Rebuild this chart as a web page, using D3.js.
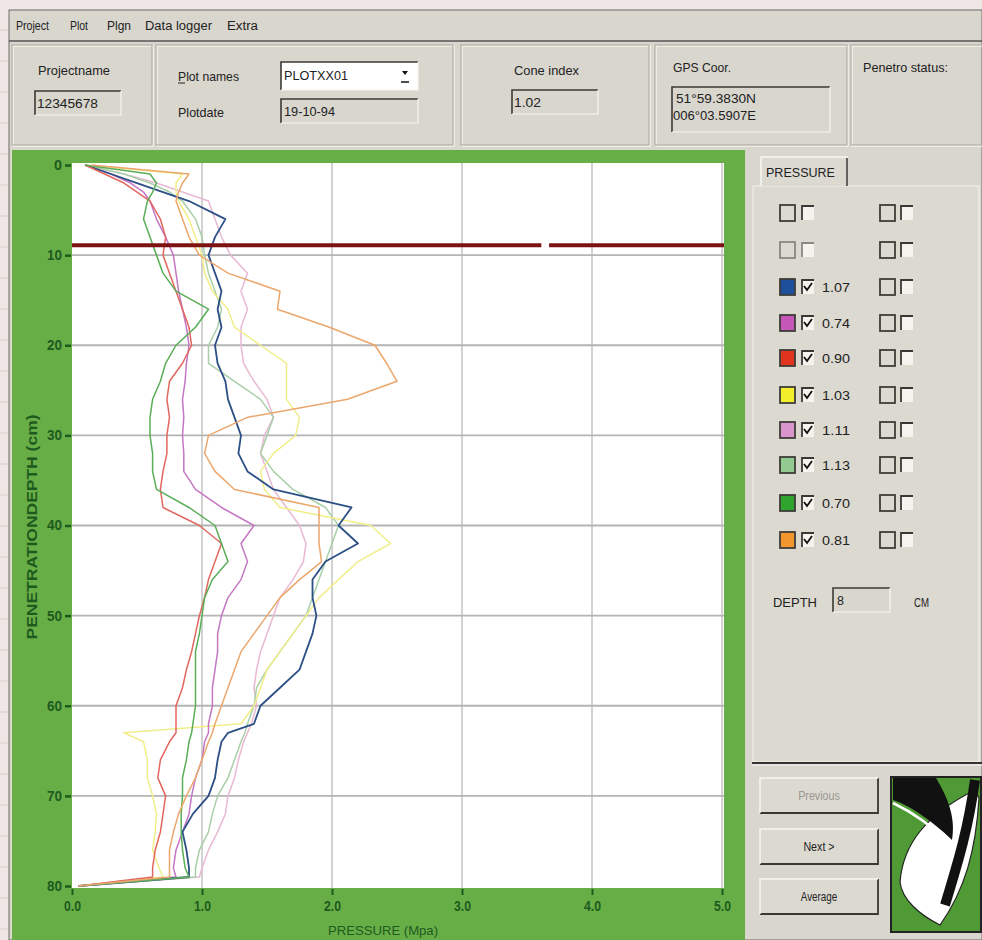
<!DOCTYPE html>
<html><head><meta charset="utf-8">
<script src="https://cdn.jsdelivr.net/npm/d3@7"></script>
<style>
html,body{margin:0;padding:0;background:#efe7e5;}
svg{display:block;}
text{font-family:"Liberation Sans",Arial,sans-serif;}
</style></head>
<body><svg id="c" width="982" height="940"></svg>
<script>
// ---------- DATA ----------
const depths = [0,1,2,3,4, 6,8,10,12,14,16,18,20,22,24,26,28,30,32,34,36,38,40,42,44,46,48,50,52,54,56,58,60,62, 63, 64,66,68,70,72,74,76,78, 79,80];
const xTicks = [0,1,2,3,4,5];
const yTicks = [0,10,20,30,40,50,60,70,80];
const seriesLabels = ["1.07","0.74","0.90","1.03","1.11","1.13","0.70","0.81"];
const seriesColors = ["#2c4f86","#c477c4","#e2675f","#f1ee8a","#e9b9d3","#a9cfa9","#5aae58","#eba76c"];
const swatchColors = ["#1d4f9c","#c457b8","#e0341f","#f3ef2a","#d996cc","#92ca92","#2fa52f","#f2962f"];
const p107 = [0.10,0.30,0.50,0.70,0.90, 1.18,1.10,1.05,1.10,1.15,1.12,1.15,1.10,1.12,1.18,1.20,1.25,1.30,1.28,1.35,1.55,2.15,2.05,2.20,1.95,1.85,1.85,1.88,1.85,1.80,1.75,1.60,1.45,1.40, 1.20, 1.15,1.12,1.10,1.05,0.93,0.85,0.88,0.90, 0.90,0.05];
const p074 = [0.10,0.30,0.45,0.55,0.60, 0.65,0.72,0.78,0.80,0.82,0.85,0.88,0.90,0.88,0.87,0.85,0.86,0.85,0.86,0.86,0.95,1.15,1.40,1.30,1.35,1.30,1.20,1.15,1.12,1.12,1.10,1.08,1.08,1.05, 1.05, 1.02,1.00,0.95,0.92,0.90,0.85,0.80,0.78, 0.80,0.05];
const p090 = [0.10,0.25,0.40,0.50,0.60, 0.68,0.72,0.70,0.75,0.80,0.85,0.90,0.92,0.85,0.75,0.73,0.75,0.73,0.73,0.70,0.68,0.70,0.98,1.15,1.10,1.05,1.02,0.98,0.95,0.92,0.88,0.85,0.80,0.80, 0.80, 0.75,0.68,0.66,0.72,0.70,0.68,0.64,0.62, 0.62,0.05];
const p103 = [0.10,0.85,0.80,0.80,0.82, 0.90,0.95,1.00,1.02,1.08,1.20,1.25,1.45,1.65,1.65,1.65,1.75,1.72,1.55,1.45,1.48,1.60,2.30,2.45,2.20,2.05,1.90,1.80,1.70,1.60,1.50,1.45,1.40,1.30, 0.40, 0.55,0.58,0.58,0.62,0.65,0.64,0.62,0.67, 0.70,0.05];
const p111 = [0.10,0.40,0.65,0.85,1.05, 1.10,1.15,1.22,1.35,1.30,1.35,1.30,1.30,1.32,1.40,1.50,1.55,1.48,1.45,1.50,1.55,1.65,1.75,1.80,1.78,1.70,1.60,1.55,1.50,1.45,1.42,1.40,1.42,1.38, 1.35, 1.32,1.28,1.25,1.20,1.18,1.12,1.05,1.00, 0.98,0.05];
const p113 = [0.10,0.40,0.60,0.75,0.85, 0.95,1.00,1.02,1.05,1.10,1.15,1.12,1.05,1.05,1.25,1.45,1.55,1.50,1.45,1.55,1.70,1.95,2.05,2.00,1.95,1.90,1.85,1.80,1.70,1.60,1.50,1.42,1.40,1.35, 1.33, 1.30,1.25,1.20,1.12,1.08,1.05,0.98,0.95, 0.95,0.05];
const p070 = [0.10,0.60,0.65,0.62,0.58, 0.55,0.60,0.65,0.70,0.80,1.05,0.95,0.80,0.72,0.68,0.62,0.60,0.60,0.62,0.62,0.65,0.90,1.10,1.15,1.20,1.08,1.02,1.00,0.98,0.95,0.95,0.95,0.95,0.93, 0.92, 0.90,0.88,0.85,0.85,0.84,0.84,0.85,0.87, 0.90,0.05];
const p081 = [0.15,0.90,0.85,0.82,0.80, 0.85,0.90,0.98,1.20,1.60,1.58,1.98,2.33,2.42,2.50,2.12,1.35,1.05,1.02,1.10,1.25,1.90,1.90,1.90,1.92,1.75,1.60,1.50,1.40,1.30,1.25,1.20,1.15,1.10, 1.08, 1.05,1.00,0.95,0.88,0.82,0.78,0.75,0.75, 0.75,0.05];
const seriesValues = [p107,p074,p090,p103,p111,p113,p070,p081];
const markerDepth = 8.9;
const markerGap = [3.61, 3.67];
const depthValue = "8";
const menuItems = ["Project","Plot","Plgn","Data logger","Extra"];

// ---------- DRAW ----------
const svg = d3.select("#c");
const F = "#1e5a1e";
for (let i=0;i<30;i++) svg.append("line").attr("x1",0).attr("x2",8).attr("y1",30+i*31).attr("y2",30+i*31).attr("stroke","#d9cfcd");
svg.append("rect").attr("x",9).attr("y",10).attr("width",973).attr("height",930).attr("fill","#d9d6ce").attr("stroke","#6d6a66");
svg.append("line").attr("x1",9).attr("x2",982).attr("y1",41).attr("y2",41).attr("stroke","#555").attr("stroke-width",1.5);

function lbl(x,y,t,s,w,col){
  const e = svg.append("text").attr("x",x).attr("y",y).attr("font-size",s||12.5).attr("fill",col||"#222").text(t);
  if (w) e.attr("textLength",w).attr("lengthAdjust","spacingAndGlyphs");
  return e;
}
const menuX = [16,70,107,145,227], menuW = [33,18,24,67,31];
menuItems.forEach((m,i)=>lbl(menuX[i],30,m,12.5,menuW[i]));

function etched(x,y,w,h){
  svg.append("rect").attr("x",x).attr("y",y).attr("width",w).attr("height",h).attr("fill","none").attr("stroke","#fbfaf6").attr("stroke-width",1.2);
  svg.append("rect").attr("x",x-1).attr("y",y-1).attr("width",w).attr("height",h).attr("fill","none").attr("stroke","#a9a59e").attr("stroke-width",1);
}
function field(x,y,w,h,fill){
  svg.append("rect").attr("x",x).attr("y",y).attr("width",w).attr("height",h).attr("fill",fill||"#d9d6ce");
  svg.append("path").attr("d",`M${x},${y+h}V${y}H${x+w}`).attr("fill","none").attr("stroke","#3c3a36").attr("stroke-width",1.6);
  svg.append("path").attr("d",`M${x+w},${y}V${y+h}H${x}`).attr("fill","none").attr("stroke","#f6f5f0").attr("stroke-width",1.2);
}
etched(13,46,140,100); etched(157,46,297,100); etched(462,46,188,100); etched(656,46,192,100); etched(852,46,132,100);
lbl(38,75,"Projectname",13,72);
field(35,91,86,24); lbl(37,108,"12345678",12.5,61);
lbl(178,81,"Plot names",13,61); svg.append("line").attr("x1",178).attr("x2",185).attr("y1",83).attr("y2",83).attr("stroke","#222");
field(281,62,137,28,"#ffffff"); lbl(284,80,"PLOTXX01",12.5,64);
svg.append("path").attr("d","M402,71l6,0l-3,4z").attr("fill","#111");
svg.append("line").attr("x1",401).attr("x2",409).attr("y1",82).attr("y2",82).attr("stroke","#111").attr("stroke-width",1.5);
lbl(178,117,"Plotdate",13,46);
field(281,99,137,24); lbl(284,116,"19-10-94",12.5,51);
lbl(514,75,"Cone index",13,65);
field(512,90,86,24); lbl(514,107,"1.02",12.5,27);
lbl(673,72,"GPS Coor.",13,58);
field(672,87,158,45);
lbl(676,103,"51°59.3830N",12.5,80); lbl(673,120,"006°03.5907E",12.5,83);
lbl(863,72,"Penetro status:",13,85);

// chart frame
svg.append("rect").attr("x",12).attr("y",150).attr("width",733).attr("height",790).attr("fill","#68ae47");
const x = d3.scaleLinear().domain([0,5]).range([72,722]);
const y = d3.scaleLinear().domain([0,80]).range([165,886]);
svg.append("rect").attr("x",72).attr("y",163).attr("width",652).attr("height",725).attr("fill","#ffffff");
svg.append("defs").append("clipPath").attr("id","clp").append("rect").attr("x",72).attr("y",163).attr("width",652).attr("height",725);
const g = svg.append("g").attr("clip-path","url(#clp)");
g.selectAll(".gx").data(xTicks.slice(1)).join("line").attr("x1",d=>x(d)).attr("x2",d=>x(d)).attr("y1",163).attr("y2",888).attr("stroke","#b4b4b4").attr("stroke-width",1.2);
g.selectAll(".gy").data(yTicks.slice(1,-1)).join("line").attr("x1",72).attr("x2",724).attr("y1",d=>y(d)).attr("y2",d=>y(d)).attr("stroke","#b4b4b4").attr("stroke-width",1.8);
const line = d3.line().x(d=>x(d[1])).y(d=>y(d[0]));
const order = [4,5,3,1,0,2,6,7];
order.forEach(i=>{
  const pts = depths.map((d,k)=>[d,seriesValues[i][k]]);
  g.append("path").datum(pts).attr("d",line).attr("fill","none").attr("stroke",seriesColors[i]).attr("stroke-width",i===0?1.8:1.5).attr("stroke-linejoin","round");
});
g.append("line").attr("x1",x(0)).attr("x2",x(markerGap[0])).attr("y1",y(markerDepth)).attr("y2",y(markerDepth)).attr("stroke","#7d1212").attr("stroke-width",4);
g.append("line").attr("x1",x(markerGap[1])).attr("x2",724).attr("y1",y(markerDepth)).attr("y2",y(markerDepth)).attr("stroke","#7d1212").attr("stroke-width",4);

// axes
const ay = svg.append("g").attr("transform","translate(71,0)").call(d3.axisLeft(y).tickValues(yTicks).tickFormat(d3.format("d")).tickSize(6).tickPadding(3));
ay.select(".domain").remove();
ay.selectAll("line").attr("stroke",F).attr("stroke-width",2.5);
ay.selectAll("text").attr("fill",F).attr("font-size",14).attr("font-weight","bold").attr("font-family","Liberation Sans, Arial, sans-serif")
  .attr("textLength",d=>d>=10?15:8).attr("lengthAdjust","spacingAndGlyphs");
const ax = svg.append("g").attr("transform","translate(0,889)").call(d3.axisBottom(x).tickValues(xTicks).tickFormat(d3.format(".1f")).tickSize(6).tickPadding(6));
ax.select(".domain").remove();
ax.selectAll("line").attr("stroke",F).attr("stroke-width",2);
ax.selectAll("text").attr("fill",F).attr("font-size",14).attr("font-weight","bold").attr("font-family","Liberation Sans, Arial, sans-serif")
  .attr("textLength",17).attr("lengthAdjust","spacingAndGlyphs");
svg.append("text").attr("x",383).attr("y",935).attr("text-anchor","middle").attr("font-size",13).attr("fill",F)
  .attr("textLength",110).attr("lengthAdjust","spacingAndGlyphs").text("PRESSURE  (Mpa)");
svg.append("text").attr("transform","translate(37,527) rotate(-90)").attr("text-anchor","middle").attr("font-size",14).attr("font-weight","bold").attr("fill",F)
  .attr("textLength",225).attr("lengthAdjust","spacingAndGlyphs").text("PENETRATIONDEPTH (cm)");

// right panel
svg.append("rect").attr("x",753).attr("y",186).attr("width",226).attr("height",576).attr("fill","#dcd9d1").attr("stroke","#f5f4ef");
svg.append("path").attr("d","M761,186V157H847V186").attr("fill","#dcd9d1").attr("stroke","#f7f6f1").attr("stroke-width",1.5);
svg.append("line").attr("x1",847).attr("x2",847).attr("y1",158).attr("y2",186).attr("stroke","#333").attr("stroke-width",1.5);
lbl(766,177,"PRESSURE",12.5,69);
svg.append("line").attr("x1",752).attr("x2",982).attr("y1",763).attr("y2",763).attr("stroke","#333").attr("stroke-width",2);
svg.append("line").attr("x1",752).attr("x2",982).attr("y1",765).attr("y2",765).attr("stroke","#f5f4ef").attr("stroke-width",1);

const rowY = [213,250,287,323,358,395,430,465,503,540];
function box(bx,by,fill,dim){
  svg.append("rect").attr("x",bx).attr("y",by-8).attr("width",15).attr("height",16).attr("fill",fill||"none").attr("stroke",dim?"#8a8782":"#3e3c38").attr("stroke-width",1.8);
}
function chk(cx,cy,checked,dim){
  svg.append("rect").attr("x",cx).attr("y",cy-7).attr("width",13).attr("height",14).attr("fill","#f4f3ee");
  svg.append("path").attr("d",`M${cx+1},${cy+7}V${cy-7}H${cx+13}`).attr("fill","none").attr("stroke",dim?"#8a8782":"#3a3834").attr("stroke-width",1.8);
  if (checked) svg.append("path").attr("d",`M${cx+3},${cy-1}l3,4l5,-7`).attr("fill","none").attr("stroke","#111").attr("stroke-width",1.8);
}
rowY.forEach((ry,r)=>{
  const si = r-2;
  if (si>=0){ box(780,ry,swatchColors[si]); chk(801,ry,true); lbl(822,ry+5,seriesLabels[si],13,28); }
  else { box(780,ry,null,r===1); chk(801,ry,false,r===1); }
  box(880,ry,null); chk(900,ry,false);
});
lbl(773,607,"DEPTH",12.5,44);
field(833,588,57,24); lbl(837,605,depthValue,12.5);
lbl(914,607,"CM",12.5,15);

function btn(bx,by,t,dis){
  svg.append("rect").attr("x",bx).attr("y",by).attr("width",118).attr("height",35).attr("fill","#dcd9d1");
  svg.append("path").attr("d",`M${bx},${by+35}H${bx+118}V${by}`).attr("fill","none").attr("stroke","#3a3834").attr("stroke-width",1.8);
  svg.append("path").attr("d",`M${bx},${by+35}V${by}H${bx+118}`).attr("fill","none").attr("stroke","#f7f6f1").attr("stroke-width",1.5);
  svg.append("text").attr("x",bx+59).attr("y",by+22).attr("text-anchor","middle").attr("font-size",12).attr("fill",dis?"#9a9792":"#222")
    .attr("textLength",t.length*5.2).attr("lengthAdjust","spacingAndGlyphs").text(t);
}
btn(760,778,"Previous",true); btn(760,829,"Next >"); btn(760,879,"Average");
// logo
svg.append("rect").attr("x",891).attr("y",777).attr("width",90).attr("height",155).attr("fill","#4f9a34").attr("stroke","#222").attr("stroke-width",2);
svg.append("path").attr("d","M900,882 C903,845 925,815 975,790 L979,798 C976,850 965,890 940,925 C920,915 902,900 900,882Z").attr("fill","#ffffff").attr("stroke","#222").attr("stroke-width",1.2);
svg.append("path").attr("d","M893,778 L936,778 C948,798 956,818 952,840 C938,826 912,806 893,800Z").attr("fill","#111");
svg.append("path").attr("d","M893,803 C912,812 932,826 950,844").attr("fill","none").attr("stroke","#fff").attr("stroke-width",2.5);
svg.append("path").attr("d","M975,780 C968,830 958,862 945,905").attr("fill","none").attr("stroke","#111").attr("stroke-width",10);
</script></body></html>
